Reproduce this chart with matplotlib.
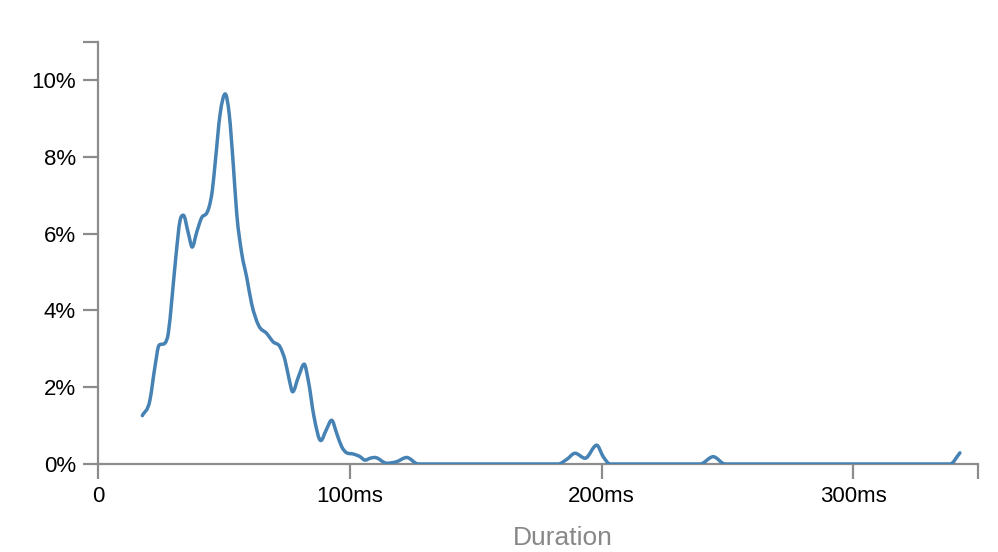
"""Duration distribution line chart (share of requests per duration bucket)."""

import matplotlib

matplotlib.use("Agg")
import matplotlib.pyplot as plt  # noqa: E402
import numpy as np  # noqa: E402
from matplotlib.patches import PathPatch  # noqa: E402
from matplotlib.path import Path  # noqa: E402
from matplotlib.ticker import FuncFormatter  # noqa: E402

plt.rcParams["font.family"] = ["Liberation Sans", "DejaVu Sans"]

# Values
duration_ms = [
    17.5, 20.5, 22.5, 24.1, 26.5, 27.8, 29.2, 30.8, 32.5, 33.8,
    35.8, 37.3, 39.1, 41.1, 43.1, 44.0, 45.3, 46.4, 48.4, 50.4,
    52.0, 53.6, 55.0, 57.0, 59.0, 60.9, 63.6, 66.9, 69.5, 72.2,
    74.2, 75.9, 77.2, 79.5, 81.8, 83.4, 85.7, 88.4, 90.5, 92.7,
    94.7, 96.7, 98.7, 101.3, 104.0, 106.0, 108.0, 109.9, 114.6, 118.5,
    122.5, 127.1, 182.7, 186.1, 189.4, 193.4, 198.0, 200.6, 203.3, 239.1,
    244.3, 249.0, 338.4, 342.3,
]
share_pct = [
    1.26, 1.66, 2.53, 3.09, 3.15, 3.40, 4.27, 5.39, 6.35, 6.48,
    6.00, 5.65, 6.04, 6.42, 6.54, 6.69, 7.13, 7.82, 9.12, 9.64,
    9.12, 7.82, 6.52, 5.48, 4.85, 4.18, 3.62, 3.40, 3.18, 3.05,
    2.70, 2.18, 1.88, 2.27, 2.60, 2.18, 1.23, 0.61, 0.88, 1.14,
    0.80, 0.45, 0.29, 0.26, 0.19, 0.10, 0.15, 0.17, 0.02, 0.06,
    0.17, 0.00, 0.00, 0.12, 0.28, 0.15, 0.49, 0.19, 0.00, 0.00,
    0.19, 0.00, 0.00, 0.29,
]

x_ticks = [0, 100, 200, 300]
y_ticks = [0, 2, 4, 6, 8, 10]
x_max = 349.6
y_max = 11.0

AXIS_COLOR = "#8c8c8c"
LINE_COLOR = "#4682b4"


def monotone_path(xs, ys):
    """Bezier path through the points, like d3.curveMonotoneX."""
    x = np.asarray(xs, float)
    y = np.asarray(ys, float)
    h = np.diff(x)
    s = np.diff(y) / h
    m = np.zeros_like(x)
    m[0], m[-1] = s[0], s[-1]
    for i in range(1, len(x) - 1):
        if s[i - 1] * s[i] > 0:
            m[i] = (s[i - 1] * h[i] + s[i] * h[i - 1]) / (h[i - 1] + h[i])
            lim = 3 * min(abs(s[i - 1]), abs(s[i]))
            m[i] = np.sign(m[i]) * min(abs(m[i]), lim)
    verts = [(x[0], y[0])]
    codes = [Path.MOVETO]
    for i in range(len(h)):
        d = h[i] / 3
        verts += [(x[i] + d, y[i] + m[i] * d),
                  (x[i + 1] - d, y[i + 1] - m[i + 1] * d),
                  (x[i + 1], y[i + 1])]
        codes += [Path.CURVE4] * 3
    return Path(verts, codes)


W, H = 998, 552
fig = plt.figure(figsize=(W / 100, H / 100), dpi=100)
ax = fig.add_axes([98.3 / W, 88 / H, (978.3 - 98.3) / W, (464 - 41.7) / H])

ax.add_patch(PathPatch(monotone_path(duration_ms, share_pct), facecolor="none",
                       edgecolor=LINE_COLOR, linewidth=2.5, joinstyle="round",
                       capstyle="round", zorder=3))

ax.set_xlim(0, x_max)
ax.set_ylim(0, y_max)
ax.set_xticks(x_ticks)
ax.set_yticks(y_ticks)
# outer ticks at the ends of the domain, like d3's axis path
ax.set_xticks([x_max], minor=True)
ax.set_yticks([y_max], minor=True)
ax.xaxis.set_major_formatter(FuncFormatter(lambda v, _: "0" if v == 0 else f"{v:.0f}ms"))
ax.yaxis.set_major_formatter(FuncFormatter(lambda v, _: f"{v:.0f}%"))

for side in ("top", "right"):
    ax.spines[side].set_visible(False)
for side in ("left", "bottom"):
    ax.spines[side].set_color(AXIS_COLOR)
    ax.spines[side].set_linewidth(1.6)
    ax.spines[side].set_capstyle("projecting")

ax.tick_params(which="both", direction="out", length=11, width=1.6,
               color=AXIS_COLOR, labelsize=16, labelcolor="black")
ax.tick_params(axis="x", pad=5)
ax.tick_params(axis="y", pad=5)
ax.patch.set_visible(False)

fig.text(563 / W, (H - 545) / H, "Duration", ha="center", va="baseline",
         fontsize=19, color="#888888")

fig.savefig("out.png", dpi=100, facecolor="white")
